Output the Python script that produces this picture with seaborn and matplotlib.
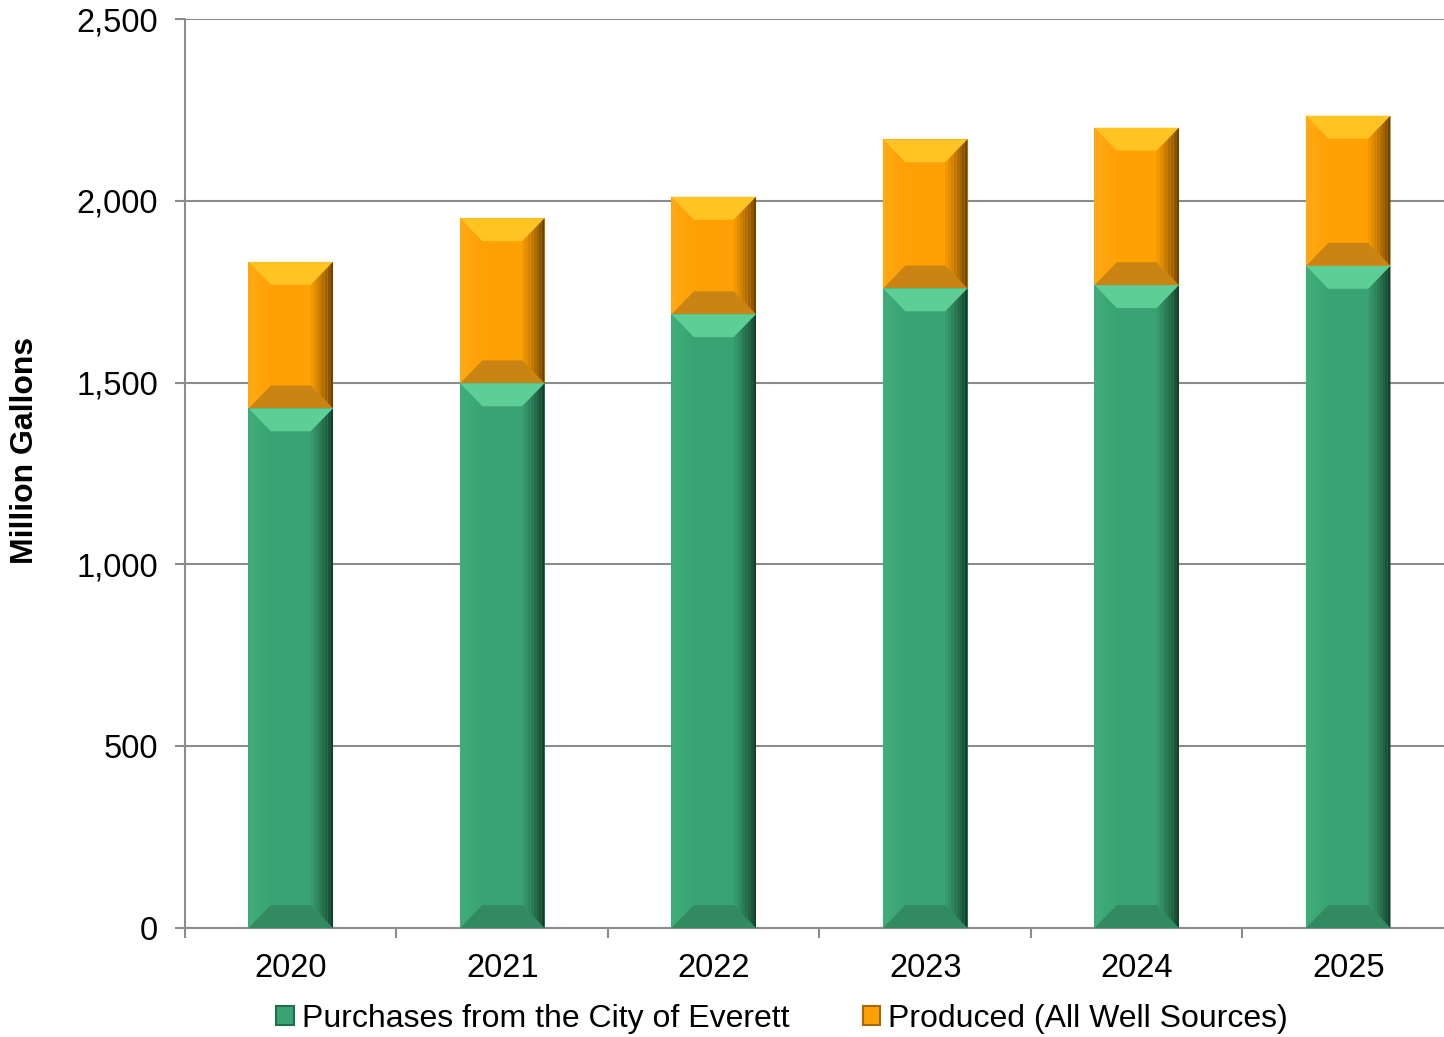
import numpy as np
import pandas as pd
import matplotlib
matplotlib.use("Agg")
import matplotlib.pyplot as plt
from matplotlib.patches import Polygon, Rectangle
from matplotlib.colors import to_rgb
from matplotlib.ticker import FuncFormatter, MultipleLocator, FixedLocator
import seaborn as sns

years = ["2020", "2021", "2022", "2023", "2024", "2025"]
purchases = [1429, 1498, 1688, 1759, 1768, 1821]
produced = [403, 454, 323, 410, 433, 413]
series_names = ["Purchases from the City of Everett", "Produced (All Well Sources)"]

sns.set_theme(style="white")
plt.rcParams['font.family'] = ['Liberation Sans', 'DejaVu Sans']
plt.rcParams['text.color'] = 'black'

totals = [a + b for a, b in zip(purchases, produced)]
df = pd.DataFrame({"year": years, "purchases": purchases, "total": totals})

W, H, DPI = 1444, 1037, 100
fig = plt.figure(figsize=(W / DPI, H / DPI), dpi=DPI)
ax = fig.add_axes([185 / W, (H - 928) / H, 1 - 185 / W, (928 - 19) / H])

GREEN = "#3aa373"
ORANGE = "#ffa005"
grid_c = "#8c8c8c"
FS = 23.5

ax.set_ylim(0, 2500)
ax.yaxis.set_major_locator(MultipleLocator(500))
ax.grid(axis="y", color=grid_c, linewidth=1.5, zorder=0)
ax.set_axisbelow(True)

sns.barplot(data=df, x="year", y="total", color=ORANGE, width=0.4, saturation=1,
            ax=ax, zorder=2, edgecolor="none")
n_or = len(ax.patches)
sns.barplot(data=df, x="year", y="purchases", color=GREEN, width=0.4, saturation=1,
            ax=ax, zorder=3, edgecolor="none")
ax.set_xlim(-0.5, 5.453)


def mix(c1, c2, t):
    a, b = np.array(to_rgb(c1)), np.array(to_rgb(c2))
    return tuple(a + (b - a) * t)


def bevel(p, base, light, dark, top_c, bot_c, zo, y0):
    x0, w = p.get_x(), p.get_width()
    y1 = p.get_y() + p.get_height()
    bx = 0.105 * w / 0.4
    by = 63
    x1 = x0 + w
    add = lambda pts, c: ax.add_patch(Polygon(pts, closed=True, facecolor=c,
                                              edgecolor="none", zorder=zo))
    add([(x0, y1), (x1, y1), (x1 - bx, y1 - by), (x0 + bx, y1 - by)], top_c)
    add([(x0, y0), (x1, y0), (x1 - bx, y0 + by), (x0 + bx, y0 + by)], bot_c)
    N = 8
    for k in range(N):
        fa, fb = k / N, (k + 1) / N
        add([(x0 + bx * fa, y0 + by * fa), (x0 + bx * fa, y1 - by * fa),
             (x0 + bx * fb, y1 - by * fb), (x0 + bx * fb, y0 + by * fb)],
            mix(light, base, fa))
        add([(x1 - bx * fa, y0 + by * fa), (x1 - bx * fa, y1 - by * fa),
             (x1 - bx * fb, y1 - by * fb), (x1 - bx * fb, y0 + by * fb)],
            mix(dark, base, fa ** 0.8))


for i, p in enumerate(ax.patches[:n_or]):
    bevel(p, ORANGE, "#ffa915", "#6e4300", "#ffc423", "#c98414", 2.5, purchases[i])
for i, p in enumerate(list(ax.patches[n_or:n_or + len(years)])):
    bevel(p, GREEN, "#40ad7b", "#143f2a", "#5dcf96", "#318a60", 3.5, 0)

for s in ["top", "right"]:
    ax.spines[s].set_visible(False)
for s in ["left", "bottom"]:
    ax.spines[s].set_color(grid_c)
    ax.spines[s].set_linewidth(1.5)

ax.yaxis.set_major_formatter(FuncFormatter(lambda v, _: f"{int(v):,}"))
ax.tick_params(axis="y", which="major", length=7.5, width=1.5, color=grid_c,
               labelsize=FS, pad=12, left=True, labelcolor="black")
ax.tick_params(axis="x", which="major", length=0, labelsize=FS, pad=18, labelcolor="black")
ax.xaxis.set_minor_locator(FixedLocator(np.arange(-0.5, 5.0, 1.0)))
ax.tick_params(axis="x", which="minor", length=7.5, width=1.5, color=grid_c, bottom=True)
ax.set_xlabel("")
ax.set_ylabel("")

fig.text(25 / W, (H - 450) / H, "Million Gallons", rotation=90, ha="center", va="center",
         fontsize=23, fontweight="bold", color="black")

handles = [Rectangle((0, 0), 1, 1, facecolor=GREEN, edgecolor="#226e4a", linewidth=1.5),
           Rectangle((0, 0), 1, 1, facecolor=ORANGE, edgecolor="#a56a05", linewidth=1.5)]
leg = fig.legend(handles, series_names, loc="center", bbox_to_anchor=(782 / W, (H - 1019) / H),
                 ncol=2, frameon=False, fontsize=23, handlelength=0.55, handleheight=0.55,
                 handletextpad=0.25, columnspacing=2.3, borderaxespad=0, borderpad=0)
for t in leg.get_texts():
    t.set_color("black")

fig.savefig("out.png", dpi=DPI)
